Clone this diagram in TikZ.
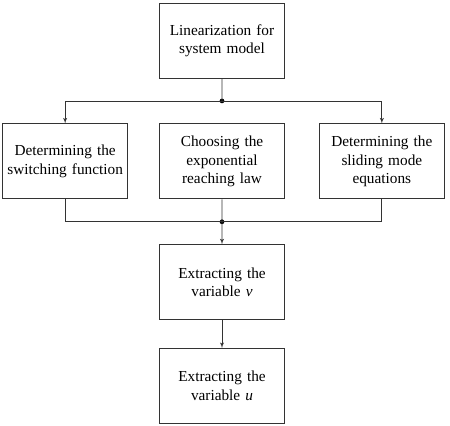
\documentclass[tikz,border=0pt]{standalone}
\usepackage{fontspec}
\setmainfont{Liberation Serif}
\usepackage{tikz}
\usetikzlibrary{shapes.geometric, arrows, positioning, calc}

\begin{document}
\begin{tikzpicture}[node distance=1.5cm, auto]
        \tikzstyle{block} = [rectangle, draw=black!80, line width=0.8pt, text width=4cm, align=center, minimum width=4.17cm, minimum height=2.5cm, inner sep=1pt, font=\fontsize{14.5}{17.5}\selectfont]
        \tikzstyle{line} = [draw=black!80, line width=0.8pt, -latex']
        \tikzstyle{wire} = [draw=black!80, line width=0.8pt]
        \tikzstyle{joint} = [circle, fill=black, inner sep=0pt, minimum size=4.5pt]

        \useasboundingbox (0,0) rectangle (15,-14.2);

        \node [block] (lin) at (7.4,-1.35) {Linearization for\\system model};
        \node [block, below=of lin] (reach) {Choosing the\\exponential\\reaching law};
        \node [block, left=1.03cm of reach] (switch) {Determining the\\switching function};
        \node [block, right=1.13cm of reach] (slide) {Determining the\\sliding mode\\equations};
        \node [block, below=of reach] (extv) {Extracting the\\variable \textit{v}};
        \node [block, below=0.93cm of extv] (extu) {Extracting the\\variable \textit{u}};

        \coordinate (split) at ($(lin.south)!0.5!(reach.north)$);
        \coordinate (merge) at ($(reach.south)!0.5!(extv.north)$);
        \node [joint] at (split) {};
        \node [joint] at (merge) {};

        \path [wire] (lin) -- (split);
        \path [line] (split) -| (switch);
        \path [line] (split) -| (slide);

        \path [wire] (switch) |- (merge);
        \path [wire] (slide) |- (merge);
        \path [wire] (reach) -- (merge);
        \path [line] (merge) -- (extv);
        \path [line] (extv) -- (extu);
    \end{tikzpicture}
\end{document}
